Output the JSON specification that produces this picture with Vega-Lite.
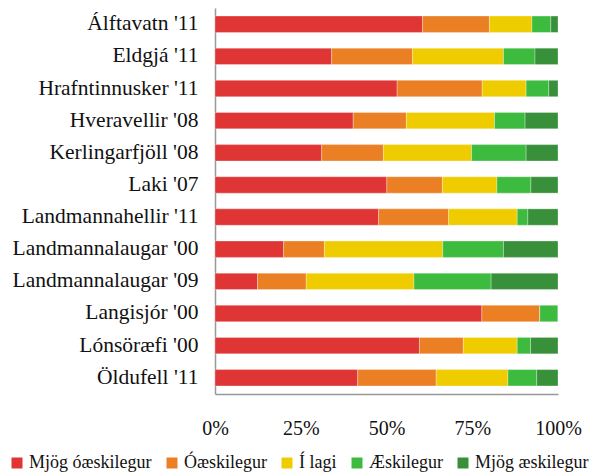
{
  "$schema": "https://vega.github.io/schema/vega-lite/v6.json",
  "width": 343,
  "height": 386,
  "autosize": {"type": "none"},
  "padding": {"left": 215, "top": 8, "right": 40, "bottom": 78},
  "background": "white",
  "config": {
    "view": {"stroke": null},
    "font": "Liberation Serif",
    "axis": {"labelFont": "Liberation Serif"},
    "legend": {"labelFont": "Liberation Serif"}
  },
  "data": {
    "values": [
      {"site": "Álftavatn '11", "cat": "Mjög óæskilegur", "o": 1, "v": 60.5},
      {"site": "Álftavatn '11", "cat": "Óæskilegur", "o": 2, "v": 19.5},
      {"site": "Álftavatn '11", "cat": "Í lagi", "o": 3, "v": 12.4},
      {"site": "Álftavatn '11", "cat": "Æskilegur", "o": 4, "v": 5.5},
      {"site": "Álftavatn '11", "cat": "Mjög æskilegur", "o": 5, "v": 2.1},
      {"site": "Eldgjá '11", "cat": "Mjög óæskilegur", "o": 1, "v": 34.0},
      {"site": "Eldgjá '11", "cat": "Óæskilegur", "o": 2, "v": 23.6},
      {"site": "Eldgjá '11", "cat": "Í lagi", "o": 3, "v": 26.5},
      {"site": "Eldgjá '11", "cat": "Æskilegur", "o": 4, "v": 9.2},
      {"site": "Eldgjá '11", "cat": "Mjög æskilegur", "o": 5, "v": 6.7},
      {"site": "Hrafntinnusker '11", "cat": "Mjög óæskilegur", "o": 1, "v": 53.1},
      {"site": "Hrafntinnusker '11", "cat": "Óæskilegur", "o": 2, "v": 24.8},
      {"site": "Hrafntinnusker '11", "cat": "Í lagi", "o": 3, "v": 12.8},
      {"site": "Hrafntinnusker '11", "cat": "Æskilegur", "o": 4, "v": 6.6},
      {"site": "Hrafntinnusker '11", "cat": "Mjög æskilegur", "o": 5, "v": 2.7},
      {"site": "Hveravellir '08", "cat": "Mjög óæskilegur", "o": 1, "v": 40.3},
      {"site": "Hveravellir '08", "cat": "Óæskilegur", "o": 2, "v": 15.5},
      {"site": "Hveravellir '08", "cat": "Í lagi", "o": 3, "v": 25.7},
      {"site": "Hveravellir '08", "cat": "Æskilegur", "o": 4, "v": 8.9},
      {"site": "Hveravellir '08", "cat": "Mjög æskilegur", "o": 5, "v": 9.6},
      {"site": "Kerlingarfjöll '08", "cat": "Mjög óæskilegur", "o": 1, "v": 31.1},
      {"site": "Kerlingarfjöll '08", "cat": "Óæskilegur", "o": 2, "v": 18.0},
      {"site": "Kerlingarfjöll '08", "cat": "Í lagi", "o": 3, "v": 25.7},
      {"site": "Kerlingarfjöll '08", "cat": "Æskilegur", "o": 4, "v": 15.9},
      {"site": "Kerlingarfjöll '08", "cat": "Mjög æskilegur", "o": 5, "v": 9.3},
      {"site": "Laki '07", "cat": "Mjög óæskilegur", "o": 1, "v": 50.1},
      {"site": "Laki '07", "cat": "Óæskilegur", "o": 2, "v": 16.2},
      {"site": "Laki '07", "cat": "Í lagi", "o": 3, "v": 15.9},
      {"site": "Laki '07", "cat": "Æskilegur", "o": 4, "v": 9.9},
      {"site": "Laki '07", "cat": "Mjög æskilegur", "o": 5, "v": 7.9},
      {"site": "Landmannahellir '11", "cat": "Mjög óæskilegur", "o": 1, "v": 47.7},
      {"site": "Landmannahellir '11", "cat": "Óæskilegur", "o": 2, "v": 20.4},
      {"site": "Landmannahellir '11", "cat": "Í lagi", "o": 3, "v": 20.0},
      {"site": "Landmannahellir '11", "cat": "Æskilegur", "o": 4, "v": 3.1},
      {"site": "Landmannahellir '11", "cat": "Mjög æskilegur", "o": 5, "v": 8.8},
      {"site": "Landmannalaugar '00", "cat": "Mjög óæskilegur", "o": 1, "v": 20.0},
      {"site": "Landmannalaugar '00", "cat": "Óæskilegur", "o": 2, "v": 11.9},
      {"site": "Landmannalaugar '00", "cat": "Í lagi", "o": 3, "v": 34.5},
      {"site": "Landmannalaugar '00", "cat": "Æskilegur", "o": 4, "v": 17.7},
      {"site": "Landmannalaugar '00", "cat": "Mjög æskilegur", "o": 5, "v": 15.9},
      {"site": "Landmannalaugar '09", "cat": "Mjög óæskilegur", "o": 1, "v": 12.4},
      {"site": "Landmannalaugar '09", "cat": "Óæskilegur", "o": 2, "v": 14.2},
      {"site": "Landmannalaugar '09", "cat": "Í lagi", "o": 3, "v": 31.4},
      {"site": "Landmannalaugar '09", "cat": "Æskilegur", "o": 4, "v": 22.5},
      {"site": "Landmannalaugar '09", "cat": "Mjög æskilegur", "o": 5, "v": 19.5},
      {"site": "Langisjór '00", "cat": "Mjög óæskilegur", "o": 1, "v": 77.8},
      {"site": "Langisjór '00", "cat": "Óæskilegur", "o": 2, "v": 16.9},
      {"site": "Langisjór '00", "cat": "Í lagi", "o": 3, "v": 0},
      {"site": "Langisjór '00", "cat": "Æskilegur", "o": 4, "v": 5.3},
      {"site": "Langisjór '00", "cat": "Mjög æskilegur", "o": 5, "v": 0},
      {"site": "Lónsöræfi '00", "cat": "Mjög óæskilegur", "o": 1, "v": 59.6},
      {"site": "Lónsöræfi '00", "cat": "Óæskilegur", "o": 2, "v": 12.8},
      {"site": "Lónsöræfi '00", "cat": "Í lagi", "o": 3, "v": 15.7},
      {"site": "Lónsöræfi '00", "cat": "Æskilegur", "o": 4, "v": 3.9},
      {"site": "Lónsöræfi '00", "cat": "Mjög æskilegur", "o": 5, "v": 8.0},
      {"site": "Öldufell '11", "cat": "Mjög óæskilegur", "o": 1, "v": 41.6},
      {"site": "Öldufell '11", "cat": "Óæskilegur", "o": 2, "v": 22.9},
      {"site": "Öldufell '11", "cat": "Í lagi", "o": 3, "v": 20.9},
      {"site": "Öldufell '11", "cat": "Æskilegur", "o": 4, "v": 8.4},
      {"site": "Öldufell '11", "cat": "Mjög æskilegur", "o": 5, "v": 6.2}
    ]
  },
  "mark": {"type": "bar", "stroke": "white", "strokeWidth": 0.6, "strokeOpacity": 0.5},
  "encoding": {
    "y": {
      "field": "site",
      "type": "nominal",
      "sort": null,
      "title": null,
      "scale": {"paddingInner": 0.49, "paddingOuter": 0.25},
      "axis": {
        "ticks": false,
        "labelFont": "Liberation Serif",
        "labelFontSize": 21.5,
        "labelColor": "#111",
        "labelPadding": 17,
        "domainColor": "#999",
        "domainWidth": 1.5,
        "labelLimit": 300
      }
    },
    "x": {
      "field": "v",
      "type": "quantitative",
      "stack": "normalize",
      "title": null,
      "scale": {"domain": [0, 1], "nice": false},
      "axis": {
        "values": [0, 0.25, 0.5, 0.75, 1],
        "format": ".0%",
        "grid": false,
        "ticks": false,
        "labelFont": "Liberation Serif",
        "labelFontSize": 20,
        "labelColor": "#111",
        "labelPadding": 24,
        "domainColor": "#999",
        "domainWidth": 1.5,
        "labelFlush": false
      }
    },
    "color": {
      "field": "cat",
      "type": "nominal",
      "scale": {
        "domain": ["Mjög óæskilegur", "Óæskilegur", "Í lagi", "Æskilegur", "Mjög æskilegur"],
        "range": ["#DF3535", "#EB7F24", "#EFCC00", "#3DBB3F", "#38913A"]
      },
      "legend": {
        "title": null,
        "orient": "none",
        "direction": "horizontal",
        "legendX": -207,
        "legendY": 446,
        "symbolType": "square",
        "symbolSize": 121,
        "symbolStrokeWidth": 0,
        "labelFont": "Liberation Serif",
        "labelFontSize": 18,
        "labelColor": "#111",
        "labelOffset": 3,
        "columnPadding": 11,
        "labelLimit": 300
      }
    },
    "order": {"field": "o", "type": "quantitative"}
  }
}
